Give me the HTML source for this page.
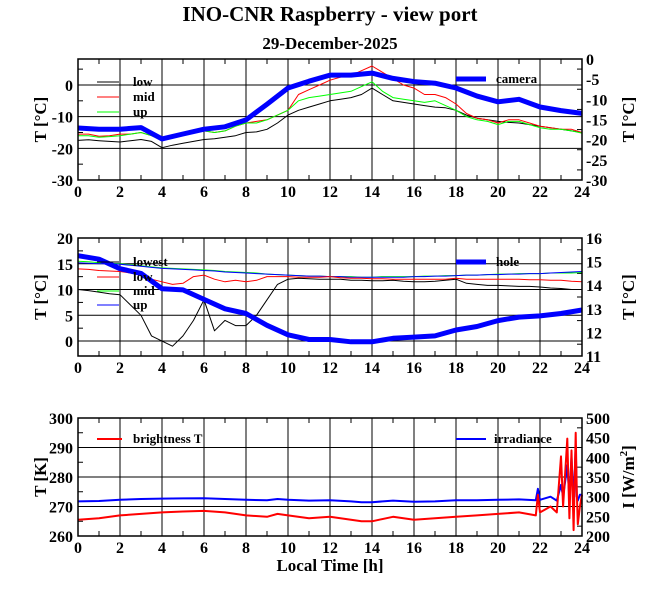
<!DOCTYPE html>
<html><head><meta charset="utf-8"><style>
body{margin:0;background:#fff;}
svg{display:block;font-family:"Liberation Serif",serif;font-weight:bold;}
</style></head><body>
<svg id="c" width="660" height="595" xmlns="http://www.w3.org/2000/svg">
<text x="330" y="21" text-anchor="middle" font-size="21">INO-CNR Raspberry - view port</text>
<text x="330" y="49" text-anchor="middle" font-size="17">29-December-2025</text>
</svg>
<script>
// ---- data ----
const hoursHalf = [0,0.5,1,1.5,2,2.5,3,3.5,4,4.5,5,5.5,6,6.5,7,7.5,8,8.5,9,9.5,10,10.5,11,11.5,12,12.5,13,13.5,14,14.5,15,15.5,16,16.5,17,17.5,18,18.5,19,19.5,20,20.5,21,21.5,22,22.5,23,23.5,24];
const hoursFull = [0,1,2,3,4,5,6,7,8,9,10,11,12,13,14,15,16,17,18,19,20,21,22,23,24];
const xTicks = [0,2,4,6,8,10,12,14,16,18,20,22,24];
// panel 1
const p1Low = [-17.5,-17.3,-17.6,-17.8,-18,-17.6,-17.2,-17.8,-19.8,-19,-18.4,-17.8,-17.2,-17,-16.5,-16,-15,-14.8,-14,-12,-9.5,-8,-7,-6,-5,-4.5,-4,-3,-1,-3,-5,-5.5,-6,-6.5,-7,-7.2,-8,-9.5,-10.5,-11,-11.5,-11.8,-12,-12.5,-13,-13.5,-14,-14.5,-15];
const p1Mid = [-15.5,-15.5,-16.2,-16,-15.5,-15.5,-15,-16,-17.5,-16.5,-15.5,-15,-14.5,-15,-14.5,-13,-12,-11.5,-11,-9.5,-8,-3,-1.5,0,1.5,2.5,3,4.5,6,4,2,0,-1,-3,-3,-4,-6,-9,-10.5,-11,-12,-11,-11,-12,-13,-13.5,-14,-14,-15];
const p1Up = [-16,-16,-16.5,-16.3,-16,-15.5,-15,-16,-17.5,-16.5,-15.5,-15,-14.5,-15,-14.5,-13,-12,-12,-11,-9.5,-8,-5,-4,-3.5,-3,-2.5,-2,-0.5,1,-2,-4,-4.5,-5,-5.5,-5,-6.5,-8,-10,-11,-11.5,-12.5,-11.5,-11.5,-12.5,-13.5,-14,-14,-14.5,-15.2];
const p1Camera = [-17.1,-17.4,-17.4,-17,-19.8,-18.6,-17.4,-16.8,-15.1,-11.2,-7.2,-5.5,-4,-4,-3.5,-4.8,-5.6,-6,-7.2,-9.2,-10.6,-10,-11.9,-12.8,-13.5];
const p1LeftTicks = [-30,-20,-10,0];
const p1RightTicks = [0,-5,-10,-15,-20,-25,-30];
// panel 2
const p2Lowest = [15.5,15.4,15.2,15.1,15,14.8,14.6,14.4,14.2,14.1,14,13.9,13.8,13.7,13.5,13.4,13.3,13.2,13,12.9,12.8,12.7,12.6,12.6,12.5,12.5,12.5,12.4,12.4,12.5,12.5,12.5,12.5,12.6,12.6,12.7,12.7,12.8,12.8,12.9,13,13,13.1,13.1,13.1,13.2,13.2,13.2,13.3];
const p2LowRed = [14,13.9,13.7,13.6,13.5,13.2,12.8,12,11.5,11,11.2,12.5,12.8,12,11.5,11.8,11.5,11.8,12.5,12.5,12.5,12.4,12.4,12.4,12.5,12.3,12.2,12.2,12.1,12.1,12,12,12,12,12,12,12.2,12,12,12,12,12,12,11.9,11.9,11.8,11.8,11.6,11.5];
const p2Mid = [10,9.8,9.5,9.2,9,7,5,1,0,-1,1,4,8,2,4,3,3,5,8,11,12,12.2,12.1,12,12,12,11.8,11.8,11.7,11.7,11.8,11.6,11.5,11.5,11.6,11.8,12,11.2,11,10.8,10.8,10.7,10.6,10.6,10.5,10.3,10.2,10,10];
const p2Up = [15.2,15.1,15,15,14.9,14.7,14.5,14.3,14.1,14,13.9,13.8,13.7,13.6,13.4,13.3,13.2,13.1,13,12.9,12.8,12.7,12.6,12.6,12.5,12.5,12.4,12.4,12.4,12.4,12.4,12.4,12.5,12.5,12.6,12.6,12.7,12.8,12.8,12.9,12.9,13,13,13.1,13.1,13.2,13.3,13.4,13.5];
const p2Hole = [15.25,15.1,14.7,14.5,13.85,13.8,13.4,13.0,12.8,12.3,11.9,11.7,11.7,11.6,11.6,11.75,11.8,11.85,12.1,12.25,12.5,12.65,12.7,12.8,12.95];
const p2LeftTicks = [0,5,10,15,20];
const p2RightTicks = [11,12,13,14,15,16];
// panel 3
const p3TempTimes = [0,1,2,3,4,5,6,7,8,9,9.5,10,11,12,13,13.5,14,15,16,17,18,19,20,21,21.8,21.9,22,22.5,22.8,23,23.1,23.3,23.4,23.5,23.6,23.7,23.75,23.8,23.9,24];
const p3Temp = [265.5,266,267,267.5,268,268.3,268.5,268,267,266.5,267.5,267,266,266.5,265.5,265,265,266.5,265.5,266,266.5,267,267.5,268,267,274,268,270,268,287,270,293,266,289,262,295,275,264,270,274];
const p3Irr = [288,289,292,294,295,295.5,296,294,292,291,294,292,290,291,288,286,286,290,287,288,291,291,292,293,291,320,292,300,290,330,300,380,296,400,280,430,300,290,305,305];
const p3LeftTicks = [260,270,280,290,300];
const p3RightTicks = [200,250,300,350,400,450,500];

// ---- drawing ----
const svg = document.getElementById('c');
const NS = 'http://www.w3.org/2000/svg';
const X0 = 78, X1 = 582;
function xs(t){ return X0 + (X1 - X0) * t / 24; }
function mk(tag, attrs, parent){ const e = document.createElementNS(NS, tag); for (const k in attrs) e.setAttribute(k, attrs[k]); (parent||svg).appendChild(e); return e; }

function panel(cfg){
  const g = mk('g', {});
  
  
  const yl = v => cfg.y1 - (v - cfg.lmin) / (cfg.lmax - cfg.lmin) * (cfg.y1 - cfg.y0);
  const yr = v => cfg.y1 - (v - cfg.rmin) / (cfg.rmax - cfg.rmin) * (cfg.y1 - cfg.y0);
  // grid
  xTicks.forEach(t => { if (t > 0 && t < 24) { const l = mk('line', {x1: xs(t), x2: xs(t), y1: cfg.y0, y2: cfg.y1, stroke: '#000', 'stroke-width': 1}, g);   } });
  cfg.grid.forEach(v => { const l = mk('line', {x1: X0, x2: X1, y1: yl(v), y2: yl(v), stroke: '#000', 'stroke-width': 1}, g);   });
  // minor x ticks
  for (let t = 1; t < 24; t += 2) { mk('line', {x1: xs(t), x2: xs(t), y1: cfg.y1, y2: cfg.y1 - 5, stroke: '#000'}, g); mk('line', {x1: xs(t), x2: xs(t), y1: cfg.y0, y2: cfg.y0 + 5, stroke: '#000'}, g); }
  // minor y ticks left/right
  cfg.lminor.forEach(v => { mk('line', {x1: X0, x2: X0 + 5, y1: yl(v), y2: yl(v), stroke: '#000'}, g); });
  cfg.rminor.forEach(v => { mk('line', {x1: X1, x2: X1 - 5, y1: yr(v), y2: yr(v), stroke: '#000'}, g); });
  // series
  cfg.series.forEach(s => {
    const f = s.axis === 'r' ? yr : yl;
    const d = s.t.map((t, i) => (i ? 'L' : 'M') + xs(t).toFixed(1) + ' ' + f(s.v[i]).toFixed(1)).join(' ');
    const p = mk('path', {d: d, fill: 'none', stroke: s.color, 'stroke-width': s.w, 'stroke-linejoin': 'round'}, g);
    
    
  });
  // frame
  const fr = mk('rect', {x: X0, y: cfg.y0, width: X1 - X0, height: cfg.y1 - cfg.y0, fill: 'none', stroke: '#000', 'stroke-width': 1.5}, g);
  
  
  // tick labels
  xTicks.forEach(t => { const e = mk('text', {x: xs(t), y: cfg.y1 + 17, 'text-anchor': 'middle', 'font-size': 16}, g); e.textContent = t;   });
  cfg.lticks.forEach(v => { const e = mk('text', {x: X0 - 5, y: yl(v) + 6, 'text-anchor': 'end', 'font-size': 16}, g); e.textContent = v;   });
  cfg.rticks.forEach(v => { const e = mk('text', {x: X1 + 4, y: yr(v) + 6, 'text-anchor': 'start', 'font-size': 16}, g); e.textContent = v;   });
  // axis titles
  const cy = (cfg.y0 + cfg.y1) / 2;
  const lt = mk('text', {x: 0, y: 0, 'text-anchor': 'middle', 'font-size': 17, transform: 'translate(46,' + cy + ') rotate(-90)'}, g);
  lt.innerHTML = cfg.ltitle;  
  const rt = mk('text', {x: 0, y: 0, 'text-anchor': 'middle', 'font-size': 17, transform: 'translate(634,' + cy + ') rotate(-90)'}, g);
  rt.innerHTML = cfg.rtitle;  
  // legend
  cfg.legend.forEach(L => {
    const lg = mk('g', {}, g);
    
    
    mk('line', {x1: L.x, x2: L.x + L.len, y1: L.y, y2: L.y, stroke: L.color, 'stroke-width': L.w}, lg);
    const e = mk('text', {x: L.tx, y: L.y + 4, 'font-size': 13}, lg); e.textContent = L.label;
  });
}

panel({name: 'panel-air-temperature', y0: 59, y1: 180, lmin: -30, lmax: 8.2, rmin: -30, rmax: 0,
  grid: [-20, -10, 0], lminor: [-25, -15, -5, 5], rminor: [-2.5, -7.5, -12.5, -17.5, -22.5, -27.5],
  lticks: p1LeftTicks, rticks: p1RightTicks, ltitle: 'T [°C]', rtitle: 'T [°C]',
  series: [
    {name: 'series-low', t: hoursHalf, v: p1Low, color: '#000', w: 1},
    {name: 'series-mid', t: hoursHalf, v: p1Mid, color: '#f00', w: 1},
    {name: 'series-up', t: hoursHalf, v: p1Up, color: '#0f0', w: 1},
    {name: 'series-camera', t: hoursFull, v: p1Camera, color: '#00f', w: 5, axis: 'r'}],
  legend: [
    {x: 97, len: 22, y: 82, color: '#000', w: 1, tx: 133, label: 'low'},
    {x: 97, len: 22, y: 97, color: '#f00', w: 1, tx: 133, label: 'mid'},
    {x: 97, len: 22, y: 112, color: '#0f0', w: 1, tx: 133, label: 'up'},
    {x: 456, len: 30, y: 79, color: '#00f', w: 5, tx: 496, label: 'camera'}]
});
panel({name: 'panel-ground-temperature', y0: 238, y1: 356, lmin: -2.9, lmax: 20, rmin: 11, rmax: 16,
  grid: [0, 5, 10, 15], lminor: [2.5, 7.5, 12.5, 17.5], rminor: [11.5, 12.5, 13.5, 14.5, 15.5],
  lticks: p2LeftTicks, rticks: p2RightTicks, ltitle: 'T [°C]', rtitle: 'T [°C]',
  series: [
    {name: 'series-lowest', t: hoursHalf, v: p2Lowest, color: '#0f0', w: 1},
    {name: 'series-up', t: hoursHalf, v: p2Up, color: '#00f', w: 1},
    {name: 'series-low', t: hoursHalf, v: p2LowRed, color: '#f00', w: 1},
    {name: 'series-mid', t: hoursHalf, v: p2Mid, color: '#000', w: 1},
    {name: 'series-hole', t: hoursFull, v: p2Hole, color: '#00f', w: 5, axis: 'r'}],
  legend: [
    {x: 97, len: 22, y: 262, color: '#000', w: 1, tx: 133, label: 'lowest'},
    {x: 97, len: 22, y: 277, color: '#f00', w: 1, tx: 133, label: 'low'},
    {x: 97, len: 22, y: 291, color: '#0f0', w: 1, tx: 133, label: 'mid'},
    {x: 97, len: 22, y: 305, color: '#00f', w: 1, tx: 133, label: 'up'},
    {x: 456, len: 30, y: 262, color: '#00f', w: 5, tx: 496, label: 'hole'}]
});
panel({name: 'panel-radiometer', y0: 418, y1: 536, lmin: 260, lmax: 300, rmin: 200, rmax: 500,
  grid: [270, 280, 290], lminor: [265, 275, 285, 295], rminor: [225, 275, 325, 375, 425, 475],
  lticks: p3LeftTicks, rticks: p3RightTicks, ltitle: 'T [K]', rtitle: 'I [W/m<tspan dy="-7" font-size="11">2</tspan><tspan dy="7">]</tspan>',
  series: [
    {name: 'series-irradiance', t: p3TempTimes, v: p3Irr, color: '#00f', w: 2, axis: 'r'},
    {name: 'series-brightness-t', t: p3TempTimes, v: p3Temp, color: '#f00', w: 2}],
  legend: [
    {x: 97, len: 25, y: 439, color: '#f00', w: 2, tx: 133, label: 'brightness T'},
    {x: 456, len: 30, y: 439, color: '#00f', w: 2, tx: 494, label: 'irradiance'}]
});
const xt = mk('text', {x: 330, y: 571, 'text-anchor': 'middle', 'font-size': 17});
xt.textContent = 'Local Time [h]';


</script>
</body></html>
